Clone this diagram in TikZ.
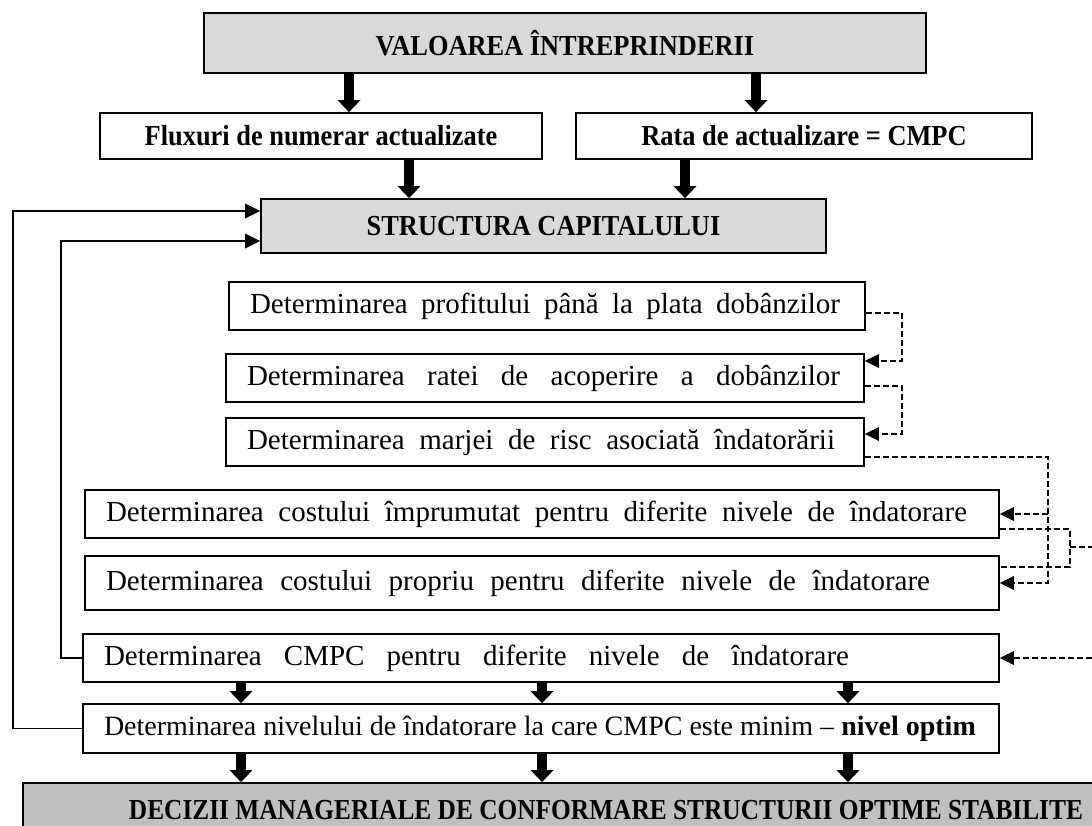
\documentclass[tikz,border=0pt]{standalone}
\usepackage{fontspec}
\usepackage{graphicx}
\setmainfont{Liberation Serif}
\usetikzlibrary{arrows.meta,calc}
% condensed bold caption text
\newcommand{\hdtxt}[1]{\scalebox{0.91}[1]{#1}}
% a justified line of given width (word spaces stretched evenly)
\newcommand{\jline}[2]{\makebox[#1pt][s]{\spaceskip=0.25em plus 1fil\xspaceskip=\spaceskip #2}}
\begin{document}
\begin{tikzpicture}[x=1pt,y=-1pt,
  hbox/.style={draw,line width=1.8pt,inner sep=0pt,fill=graybox,
    font=\fontsize{29}{34}\selectfont\bfseries},
  wbox/.style={draw,line width=1.8pt,inner sep=0pt,fill=white,
    font=\fontsize{29}{34}\selectfont\bfseries},
  pbox/.style={draw,line width=1.8pt,inner xsep=21pt,inner ysep=0pt,
    align=left,font=\fontsize{29}{34}\selectfont},
  blk/.style={line width=10pt,-{Triangle[length=12pt,width=23pt,line width=0pt]}},
  fbar/.style={line width=1.8pt,-{Triangle[length=15pt,width=15pt,line width=0pt]}},
  dsh/.style={line width=1.6pt,dash pattern=on 6pt off 3pt},
  dar/.style={dsh,-{Triangle[length=14pt,width=14pt,line width=0pt]}}
]
\definecolor{graybox}{RGB}{217,217,217}
\definecolor{graydark}{RGB}{192,192,192}
\path[use as bounding box,clip] (0,0) rectangle (1092,825);

% top part
\node[hbox,minimum width=722pt,minimum height=60pt] (v) at (565,43)
  {\hdtxt{VALOAREA ÎNTREPRINDERII}};
\node[wbox,minimum width=442pt,minimum height=46pt] (f) at (321,136)
  {\hdtxt{Fluxuri de numerar actualizate}};
\node[wbox,minimum width=456pt,minimum height=46pt] (r) at (804,136)
  {\hdtxt{Rata de actualizare = CMPC}};
\node[hbox,minimum width=565pt,minimum height=54pt] (s) at (543.5,226)
  {\hdtxt{STRUCTURA CAPITALULUI}};

% steps
\node[pbox,text width=594pt,minimum height=48pt] (p1) at (547,306)
  {\jline{590}{Determinarea profitului până la plata dobânzilor}};
\node[pbox,text width=596pt,minimum height=48pt] (p2) at (545,378)
  {\jline{593}{Determinarea ratei de acoperire a dobânzilor}};
\node[pbox,text width=596pt,minimum height=48pt] (p3) at (545,442)
  {\jline{588}{Determinarea marjei de risc asociată îndatorării}};
\node[pbox,text width=872pt,minimum height=48pt] (p4) at (542,514)
  {\jline{861}{Determinarea costului împrumutat pentru diferite nivele de îndatorare}};
\node[pbox,text width=872pt,minimum height=54pt] (p5) at (542,583)
  {\jline{824}{Determinarea costului propriu pentru diferite nivele de îndatorare}};
\node[pbox,text width=874pt,minimum height=48pt] (p6) at (541,658)
  {\jline{745}{Determinarea CMPC pentru diferite nivele de îndatorare}};
\node[pbox,text width=874pt,minimum height=49pt,font=\fontsize{28}{32}\selectfont] (p7) at (541,728.5)
  {\jline{852}{Determinarea nivelului de îndatorare la care CMPC este minim -- \textbf{nivel optim}}};

% final decision
\node[draw,line width=1.8pt,fill=graydark,inner sep=0pt,minimum width=1166pt,
  minimum height=54pt,font=\fontsize{29}{34}\selectfont\bfseries] (d) at (606,810)
  {\scalebox{0.875}[1]{DECIZII MANAGERIALE DE CONFORMARE STRUCTURII OPTIME STABILITE}};

% thick arrows
\coordinate (a1) at ($(v.south)+(-216,0)$);
\coordinate (a2) at ($(v.south)+(191,0)$);
\coordinate (a3) at ($(f.south)+(88,0)$);
\coordinate (a4) at ($(r.south)+(-119,0)$);
\draw[blk] (a1) -- (a1 |- f.north);
\draw[blk] (a2) -- (a2 |- r.north);
\draw[blk] (a3) -- (a3 |- s.north);
\draw[blk] (a4) -- (a4 |- s.north);
\foreach \dx [count=\i] in {-300,1,307}{
  \coordinate (b\i) at ($(p6.south)+(\dx,0)$);
  \draw[blk] (b\i) -- (b\i |- p7.north);
  \coordinate (c\i) at ($(p7.south)+(\dx,0)$);
  \draw[blk] (c\i) -- (c\i |- d.north);
}

% feedback to the capital structure
\coordinate (L1) at (13,211);
\coordinate (L2) at (61,241);
\draw[fbar] (p7.west) -| (L1) -- (L1 -| s.west);
\draw[fbar] (p6.west) -| (L2) -- (L2 -| s.west);

% dashed links between steps
\draw[dar] ($(p1.east)+(0,7)$) -- ++(36,0) |- ($(p2.east)+(0,-17)$);
\draw[dar] ($(p2.east)+(0,8)$) -- ++(37,0) |- ($(p3.east)+(0,-8)$);
\coordinate (j1) at ($(p3.east)+(183,15)$);
\draw[dar] ($(p3.east)+(0,15)$) -- (j1) |- (p5.east);
\draw[dar] (j1 |- p4.east) -- (p4.east);
\coordinate (j2) at ($(p4.east)+(70,15)$);
\coordinate (eR1) at (1092,547);
\coordinate (eR2) at (1092,658);
\draw[dsh] ($(p4.east)+(0,15)$) -- (j2) |- ($(p5.east)+(0,-16)$);
\draw[dsh] (j2 |- eR1) -- (eR1);
\draw[dar] (eR2) -- (p6.east);
\end{tikzpicture}
\end{document}
